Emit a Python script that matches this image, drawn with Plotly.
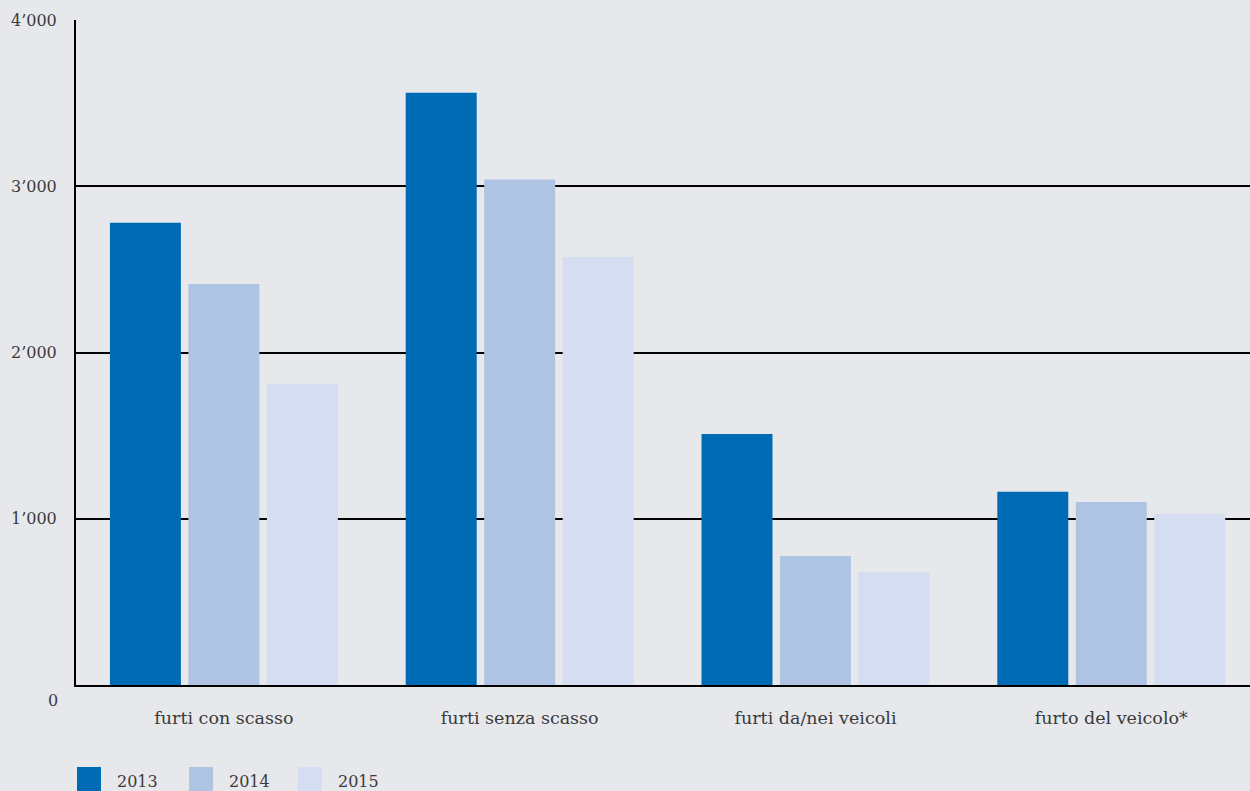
import plotly.graph_objects as go

categories = ["furti con scasso", "furti senza scasso", "furti da/nei veicoli", "furto del veicolo*"]
years = ["2013", "2014", "2015"]
values_2013 = [2780, 3562, 1510, 1162]
values_2014 = [2412, 3040, 776, 1101]
values_2015 = [1811, 2574, 680, 1030]
colors = ["#006BB5", "#AFC3E3", "#D5DDF0"]
tick_vals = [1000, 2000, 3000, 4000]
tick_text = ["1’000", "2’000", "3’000", "4’000"]

FONT = "DejaVu Serif"
FS = 16
TXT = "#3a3a3a"
BG = "#E7E8EC"

fig = go.Figure()
for name, vals, col in zip(years, [values_2013, values_2014, values_2015], colors):
    fig.add_trace(go.Bar(x=list(range(len(categories))), y=vals, name=name,
                         marker=dict(color=col, line=dict(width=0)), showlegend=False))

fig.update_layout(
    width=1250, height=791,
    margin=dict(l=76, r=0, t=20, b=106),
    paper_bgcolor=BG, plot_bgcolor=BG,
    barmode="group", bargap=0.204, bargroupgap=0.0955,
    font=dict(family=FONT, size=FS, color=TXT),
    xaxis=dict(range=[-0.5, 3.469], tickvals=list(range(len(categories))), ticktext=categories,
               showline=True, linecolor="black", linewidth=2, showgrid=False, ticks="",
               ticklabelstandoff=16, tickfont=dict(size=17.5, color=TXT, family=FONT), zeroline=False),
    yaxis=dict(range=[0, 4000], tickvals=tick_vals, ticktext=tick_text,
               showline=True, linecolor="black", linewidth=2, showgrid=True, gridcolor="black",
               gridwidth=2, ticks="", ticklabelstandoff=14, zeroline=False,
               tickfont=dict(size=FS, color=TXT, family=FONT)),
)

# zero label below axis
fig.add_annotation(x=0, y=0, xref="paper", yref="y", text="0", showarrow=False,
                   xanchor="right", yanchor="middle", xshift=-16, yshift=-15,
                   font=dict(size=FS, color=TXT, family=FONT))

# custom legend
leg_x = [77, 189, 298]
for i, (name, col) in enumerate(zip(years, colors)):
    fig.add_shape(type="rect", xref="paper", yref="paper",
                  x0=(leg_x[i] - 76) / 1174, x1=(leg_x[i] + 24 - 76) / 1174,
                  y0=-(767 - 685) / 665, y1=-(795 - 685) / 665,
                  fillcolor=col, line=dict(width=0))
    fig.add_annotation(xref="paper", yref="paper", x=(leg_x[i] + 38 - 76) / 1174,
                       y=-(781 - 685) / 665, text=name, showarrow=False,
                       xanchor="left", yanchor="middle",
                       font=dict(size=FS, color=TXT, family=FONT))

fig.write_html("out.html")
